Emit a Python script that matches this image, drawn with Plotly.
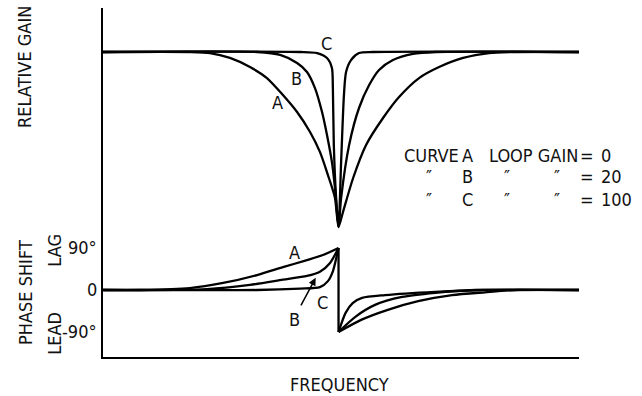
import plotly.graph_objects as go

# Normalized frequency f/f0 (notch at 1.0); relative gain 0..1
gain_a_f = [0, 0.369, 0.454, 0.539, 0.624, 0.696, 0.764, 0.824, 0.879, 0.921, 0.955, 0.985, 1.0,
            1.019, 1.062, 1.117, 1.189, 1.257, 1.342, 1.427, 1.529, 1.639, 1.741, 2.021]
gain_a = [1.0, 1.0, 0.994, 0.966, 0.914, 0.851, 0.754, 0.657, 0.543, 0.429, 0.297, 0.166, 0.0,
          0.086, 0.28, 0.469, 0.623, 0.743, 0.851, 0.914, 0.966, 0.994, 1.0, 1.0]

gain_b_f = [0, 0.654, 0.752, 0.824, 0.866, 0.900, 0.930, 0.951, 0.972, 0.985, 1.0,
            1.011, 1.045, 1.087, 1.130, 1.172, 1.231, 1.316, 1.414, 2.021]
gain_b = [1.0, 1.0, 0.983, 0.937, 0.886, 0.794, 0.657, 0.526, 0.371, 0.223, 0.0,
          0.166, 0.469, 0.68, 0.811, 0.897, 0.954, 0.989, 1.0, 1.0]

gain_c_f = [0, 0.837, 0.909, 0.951, 0.972, 0.976, 0.980, 0.989, 1.0,
            1.011, 1.023, 1.032, 1.053, 1.087, 1.146, 2.021]
gain_c = [1.0, 1.0, 0.994, 0.966, 0.909, 0.794, 0.469, 0.183, 0.0,
          0.371, 0.754, 0.886, 0.954, 0.994, 1.0, 1.0]

# Phase shift in degrees (lag positive, lead negative); below / above the notch
phase_a_lo_f = [0, 0.157, 0.369, 0.51, 0.654, 0.764, 0.866, 0.934, 1.0]
phase_a_lo = [0, 0, 4, 15, 32, 49, 64, 75, 90]
phase_a_hi_f = [1.0, 1.096, 1.206, 1.338, 1.482, 1.622, 1.762, 2.021]
phase_a_hi = [-90, -64, -43, -24, -11, -5, 0, 0]

phase_b_lo_f = [0, 0.442, 0.624, 0.764, 0.866, 0.921, 0.964, 1.0]
phase_b_lo = [0, 2, 11, 22, 30, 39, 58, 90]
phase_b_hi_f = [1.0, 1.07, 1.155, 1.27, 1.41, 1.58, 2.021]
phase_b_hi = [-90, -58, -32, -15, -6, 0, 0]

phase_c_lo_f = [0, 0.654, 0.837, 0.921, 0.955, 0.976, 0.993, 1.0]
phase_c_lo = [0, 0, 3, 6, 19, 40, 74, 90]
phase_c_hi_f = [1.0, 1.03, 1.06, 1.10, 1.197, 1.41, 1.62, 2.021]
phase_c_hi = [-90, -49, -28, -17, -11, -4, 0, 0]

phase_ticks = [90, 0, -90]
phase_tick_text = ["90°", "0", "-90°"]

key_curves = ["A", "B", "C"]
key_gains = ["0", "20", "100"]

FONT = "Liberation Sans Narrow, DejaVu Sans Condensed, Arial Narrow, Roboto, sans-serif"
TXT = "#111111"

fig = go.Figure()
line = dict(color="black", width=2.3, shape="spline", smoothing=0.7)
for f, g in [(gain_a_f, gain_a), (gain_b_f, gain_b), (gain_c_f, gain_c)]:
    fig.add_trace(go.Scatter(x=f, y=g, mode="lines", line=line, xaxis="x", yaxis="y", hoverinfo="skip"))
for f, p in [(phase_a_lo_f, phase_a_lo), (phase_a_hi_f, phase_a_hi),
             (phase_b_lo_f, phase_b_lo), (phase_b_hi_f, phase_b_hi),
             (phase_c_lo_f, phase_c_lo), (phase_c_hi_f, phase_c_hi)]:
    fig.add_trace(go.Scatter(x=f, y=p, mode="lines", line=line, xaxis="x", yaxis="y2", hoverinfo="skip"))
# the abrupt phase reversal at the notch frequency
fig.add_trace(go.Scatter(x=[phase_a_lo_f[-1], phase_a_hi_f[0]], y=[phase_a_lo[-1], phase_a_hi[0]],
                         mode="lines", line=dict(color="black", width=2.3), xaxis="x", yaxis="y2",
                         hoverinfo="skip"))

split = 0.3467
fig.update_layout(
    width=642, height=396,
    margin=dict(l=103, r=63, t=8, b=39),
    paper_bgcolor="white", plot_bgcolor="white",
    showlegend=False,
    font=dict(family=FONT, size=18, color=TXT),
    xaxis=dict(domain=[0, 1], range=[0, 2.021], anchor="y2", showline=True, linecolor="black",
               linewidth=2, showgrid=False, zeroline=False, showticklabels=False, ticks=""),
    yaxis=dict(domain=[split, 1], range=[-0.0514, 1.2514], anchor="x", showline=True,
               linecolor="black", linewidth=2, showgrid=False, zeroline=False,
               showticklabels=False, ticks=""),
    yaxis2=dict(domain=[0, split], range=[-143.6, 115.7], anchor="x", showline=True,
                linecolor="black", linewidth=2, showgrid=False, zeroline=False,
                showticklabels=False, ticks=""),
)

PW, PH, L, T = 476, 349, 103, 8
def px2paper(px, py):
    return (px - L) / PW, 1 - (py - T) / PH

ann = []
def add(text, x, y, xref="paper", yref="paper", xanchor="center", yanchor="middle", angle=0):
    ann.append(dict(text=text, x=x, y=y, xref=xref, yref=yref, xanchor=xanchor,
                    yanchor=yanchor, showarrow=False, textangle=angle,
                    font=dict(family=FONT, size=18, color=TXT)))

add("RELATIVE GAIN", -0.164, 0.831, angle=-90)
add("PHASE SHIFT", -0.164, 0.186, angle=-90)
add("LAG", -0.101, 0.307, angle=-90)
add("LEAD", -0.101, 0.069, angle=-90)
add("FREQUENCY", 0.497, -0.080)

# phase tick labels
for v, t in zip(phase_ticks, phase_tick_text):
    add(t, -0.008, v, "paper", "y2", xanchor="right")

# curve labels
add("A", 0.739, 0.709, "x", "y")
add("B", 0.820, 0.851, "x", "y")
add("C", 0.947, 1.046, "x", "y")
add("A", 0.815, 80, "x", "y2")
add("C", 0.930, -26, "x", "y2")
add("B", 0.811, -64, "x", "y2")

# key
key_rows_px = [155, 177, 199]
for i, (r, c, g) in enumerate(zip(key_rows_px, key_curves, key_gains)):
    if i == 0:
        add("CURVE", *px2paper(402, r), xanchor="left")
        add("LOOP GAIN", *px2paper(487, r), xanchor="left")
    else:
        add("″", *px2paper(429, r))
        add("″", *px2paper(507, r))
        add("″", *px2paper(557, r))
    add(c, *px2paper(467, r))
    add("=", *px2paper(587, r))
    add(g, *px2paper(599, r), xanchor="left")

ann.append(dict(x=0.903, y=26, ax=0.837, ay=-36, xref="x", yref="y2", axref="x", ayref="y2",
                text="", showarrow=True, arrowhead=2, arrowsize=1, arrowwidth=1.5,
                arrowcolor="black"))
fig.update_layout(annotations=ann)

fig.write_html("out.html", config={"displayModeBar": False},
               post_script="document.body.style.margin='0';document.body.style.padding='0';")
